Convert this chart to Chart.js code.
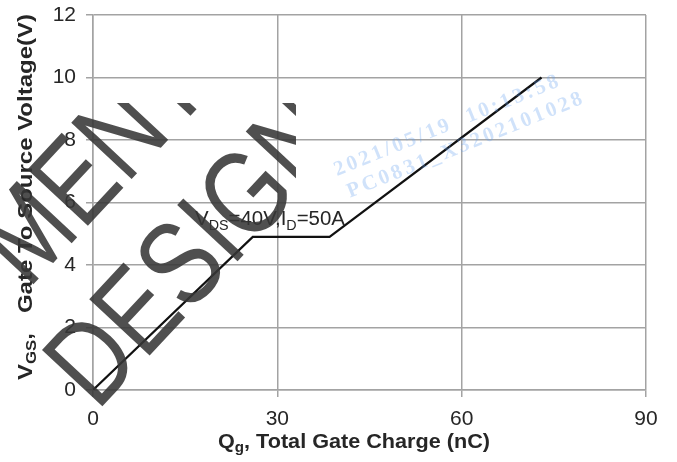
<!DOCTYPE html>
<html>
<head>
<meta charset="utf-8">
<script src="https://cdn.jsdelivr.net/npm/chart.js@4/dist/chart.umd.min.js"></script>
<style>html,body{margin:0;padding:0;background:#fff}canvas{display:block}</style>
</head>
<body>
<canvas id="chart" width="677" height="462" style="width:677px;height:462px"></canvas>
<script>
// gate charge curve
const qg = [0, 26, 38.5, 73];
const vgs = [0, 4.9, 4.9, 10];
const xTicks = [0, 30, 60, 90];
const yTicks = [0, 2, 4, 6, 8, 10, 12];

// text pieces: [text, isSubscript]
const xTitle = [['Q', 0], ['g', 1], [', Total Gate Charge (nC)', 0]];
const yTitle = [['V', 0], ['GS', 1], [',   Gate To Source Voltage(V)', 0]];
const note = [['V', 0], ['DS', 1], ['=40V,I', 0], ['D', 1], ['=50A', 0]];
const stamp = ['2021/05/19  10:13:58', 'PC0831_X3202101028'];

const FONT = "'Liberation Sans', Arial, sans-serif";
const GRID = '#a3a3a3';
const TXT = '#262626';

function richWidth(ctx, parts, size, weight) {
  let w = 0;
  parts.forEach(p => {
    ctx.font = weight + ' ' + (p[1] ? size * 0.7 : size) + 'px ' + FONT;
    w += ctx.measureText(p[0]).width;
  });
  return w;
}

function drawRich(ctx, parts, size, weight) {
  let cx = 0;
  parts.forEach(p => {
    ctx.font = weight + ' ' + (p[1] ? size * 0.7 : size) + 'px ' + FONT;
    ctx.fillText(p[0], cx, p[1] ? size * 0.22 : 0);
    cx += ctx.measureText(p[0]).width;
  });
}

const extras = {
  id: 'extras',
  afterDraw(chart) {
    const ctx = chart.ctx;
    const xs = chart.scales.x, ys = chart.scales.y;
    ctx.save();
    ctx.fillStyle = TXT;
    ctx.textBaseline = 'alphabetic';
    ctx.textAlign = 'left';

    // annotation over the plateau
    ctx.save();
    ctx.translate(xs.getPixelForValue(16.6), ys.getPixelForValue(5.27));
    let w = richWidth(ctx, note, 20, 'normal');
    ctx.scale(150 / w, 1);
    drawRich(ctx, note, 20, 'normal');
    ctx.restore();

    // x title
    ctx.save();
    ctx.translate(218, 448);
    w = richWidth(ctx, xTitle, 20, 'bold');
    ctx.scale(272 / w, 1);
    drawRich(ctx, xTitle, 20, 'bold');
    ctx.restore();

    // y title
    ctx.save();
    ctx.translate(32, 380);
    ctx.rotate(-Math.PI / 2);
    w = richWidth(ctx, yTitle, 20, 'bold');
    ctx.scale(366 / w, 1);
    drawRich(ctx, yTitle, 20, 'bold');
    ctx.restore();

    // light blue stamp
    ctx.save();
    ctx.translate(337, 176);
    ctx.rotate(-22 * Math.PI / 180);
    ctx.font = "bold 21px 'Liberation Serif', serif";
    ctx.fillStyle = 'rgba(100,160,240,0.3)';
    ctx.letterSpacing = '3px';
    ctx.fillText(stamp[0], 0, 0);
    ctx.fillText(stamp[1], 4, 25);
    ctx.restore();

    // big dark watermark, narrow letters, clipped to its tile
    ctx.save();
    ctx.beginPath();
    ctx.rect(0, 103, 296, 359);
    ctx.clip();
    ctx.fillStyle = 'rgba(55,55,55,0.88)';
    ctx.font = 'normal 120px ' + FONT;
    [[97, 412, 'DESIGN'], [28, 290, 'MENT']].forEach(r => {
      ctx.save();
      ctx.translate(r[0], r[1]);
      ctx.rotate(-47 * Math.PI / 180);
      ctx.scale(0.8, 1);
      ctx.fillText(r[2], 0, 0);
      ctx.restore();
    });
    ctx.restore();

    ctx.restore();
  }
};

new Chart(document.getElementById('chart'), {
  type: 'scatter',
  data: {
    datasets: [{
      data: qg.map((x, i) => ({ x: x, y: vgs[i] })),
      showLine: true,
      borderColor: '#111',
      borderWidth: 2.2,
      pointRadius: 0,
      tension: 0
    }]
  },
  options: {
    responsive: false,
    animation: false,
    devicePixelRatio: 1,
    layout: { padding: { top: 15, right: 31, left: 0, bottom: 0 } },
    plugins: { legend: { display: false }, tooltip: { enabled: false } },
    scales: {
      x: {
        type: 'linear', min: 0, max: 90,
        afterBuildTicks: s => { s.ticks = xTicks.map(v => ({ value: v })); },
        afterFit: s => { s.height = 72; s.paddingLeft = 0; s.paddingRight = 0; },
        grid: { color: GRID, lineWidth: 1.5, tickLength: 7 },
        border: { color: GRID, width: 1.5 },
        ticks: { font: { family: FONT, size: 21 }, color: TXT, padding: 10, maxRotation: 0 }
      },
      y: {
        type: 'linear', min: 0, max: 12,
        afterBuildTicks: s => { s.ticks = yTicks.map(v => ({ value: v })); },
        afterFit: s => { s.width = 93; s.paddingTop = 0; s.paddingBottom = 0; },
        grid: { color: GRID, lineWidth: 1.5, tickLength: 7 },
        border: { color: GRID, width: 1.5 },
        ticks: { font: { family: FONT, size: 21 }, color: TXT, padding: 10 }
      }
    }
  },
  plugins: [extras]
});
</script>
</body>
</html>
